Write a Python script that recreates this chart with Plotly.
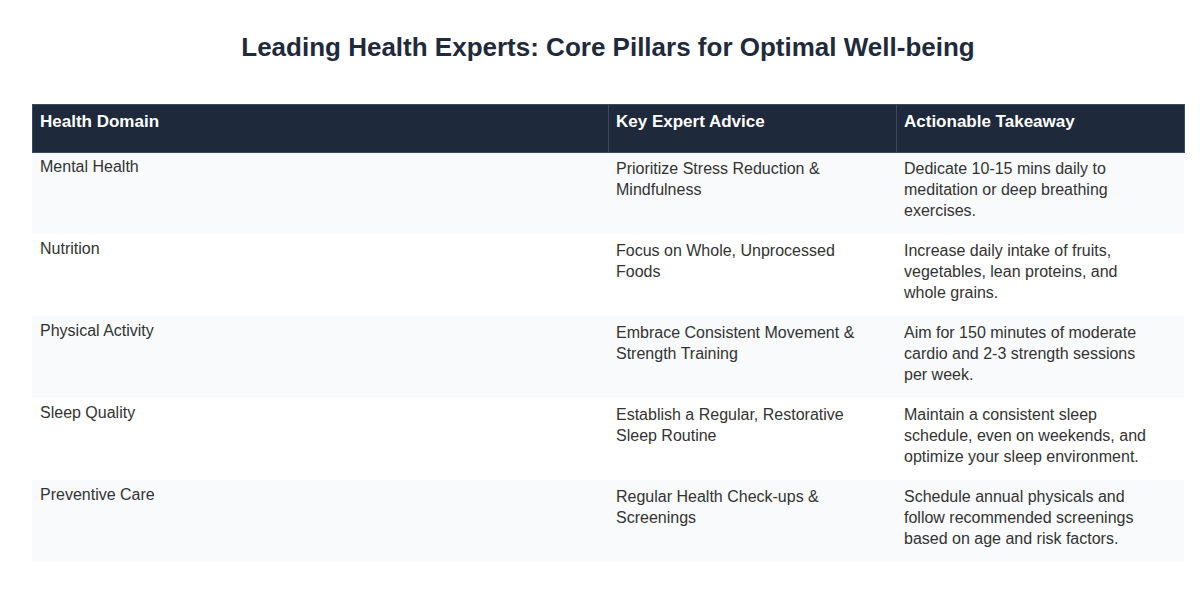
import plotly.graph_objects as go

headers = ["<b>Health Domain</b>", "<b>Key Expert Advice</b>", "<b>Actionable Takeaway</b>"]
domains = ["Mental Health", "Nutrition", "Physical Activity", "Sleep Quality", "Preventive Care"]
advice = [
    "Prioritize Stress Reduction &<br>Mindfulness",
    "Focus on Whole, Unprocessed<br>Foods",
    "Embrace Consistent Movement &<br>Strength Training",
    "Establish a Regular, Restorative<br>Sleep Routine",
    "Regular Health Check-ups &<br>Screenings",
]
takeaways = [
    "Dedicate 10-15 mins daily to<br>meditation or deep breathing<br>exercises.",
    "Increase daily intake of fruits,<br>vegetables, lean proteins, and<br>whole grains.",
    "Aim for 150 minutes of moderate<br>cardio and 2-3 strength sessions<br>per week.",
    "Maintain a consistent sleep<br>schedule, even on weekends, and<br>optimize your sleep environment.",
    "Schedule annual physicals and<br>follow recommended screenings<br>based on age and risk factors.",
]

row_fill = ["#f8fafc" if i % 2 == 0 else "#ffffff" for i in range(len(domains))]

fig = go.Figure(go.Table(
    columnwidth=[2, 1, 1],
    header=dict(
        values=headers,
        fill_color="#1e293b",
        font=dict(color="white", size=17, family="Arial, Liberation Sans, sans-serif"),
        align="left",
        height=48,
        line=dict(color="#3b4a5e", width=1),
    ),
    cells=dict(
        values=[domains, advice, takeaways],
        fill_color=[row_fill] * 3,
        font=dict(color="#333333", size=16, family="Arial, Liberation Sans, sans-serif"),
        align="left",
        height=82,
        line=dict(color="rgba(0,0,0,0)", width=0),
    ),
))

fig.update_layout(
    width=1200, height=600,
    title=dict(
        text="<b>Leading Health Experts: Core Pillars for Optimal Well-being</b>",
        x=0.5, xanchor="center", y=0.935, yanchor="middle",
        font=dict(size=26, color="#1f2a3c", family="Arial, Liberation Sans, sans-serif"),
    ),
    margin=dict(l=24, r=24, t=96, b=20),
    paper_bgcolor="white",
)

fig.write_html("out.html")
